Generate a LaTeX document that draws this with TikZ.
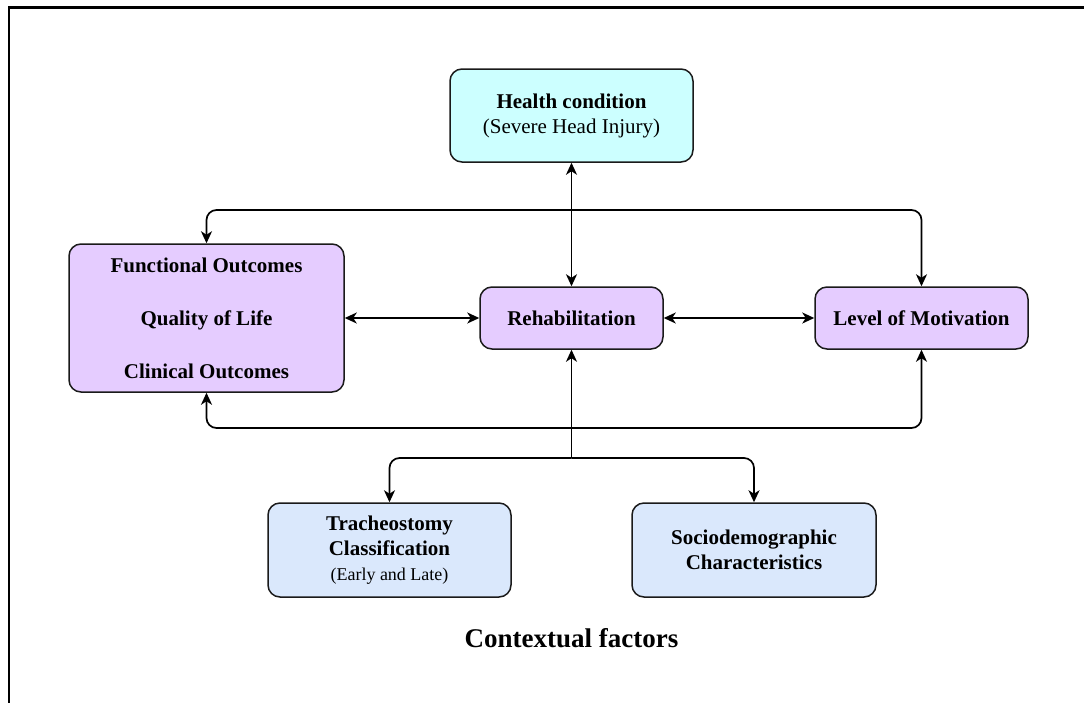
\documentclass[tikz,border=0pt]{standalone}
\usepackage{fontspec}
\setmainfont{Liberation Serif}
\usetikzlibrary{arrows.meta}
\definecolor{condfill}{HTML}{CCFFFF}
\definecolor{corefill}{HTML}{E5CCFF}
\definecolor{ctxfill}{HTML}{DAE8FC}
\definecolor{edge}{HTML}{1A1A1A}
\tikzset{
  boxstyle/.style={draw=edge, line width=1.5pt, rounded corners=12pt, align=center,
    inner sep=0pt, font=\bfseries\fontsize{21}{25}\selectfont},
  tip/.tip={Stealth[length=12pt, width=11pt, inset=3.5pt]},
  link/.style={line width=1.7pt, draw=black, rounded corners=10pt},
  both/.style={link, tip-tip},
  onearrow/.style={link, -tip},
}
\begin{document}
\begin{tikzpicture}[x=1pt, y=-1pt]
\useasboundingbox (0,0) rectangle (1084,702);
% page frame
\draw[line width=2.2pt, line cap=rect] (9,702) -- (9,7.5) -- (1084,7.5);

% health condition
\node[boxstyle, fill=condfill, minimum width=243, minimum height=93] (hc) at (571.5,115.5)
  {Health condition\\{\mdseries (Severe Head Injury)}};

% central row
\node[boxstyle, fill=corefill, minimum width=275, minimum height=148,
  font=\bfseries\fontsize{21}{53}\selectfont] (fo) at (206.5,318)
  {Functional Outcomes\\Quality of Life\\Clinical Outcomes};
\node[boxstyle, fill=corefill, minimum width=183, minimum height=62] (rehab) at (571.5,318)
  {Rehabilitation};
\node[boxstyle, fill=corefill, minimum width=213, minimum height=62] (lom) at (921.5,318)
  {Level of Motivation};

% contextual factors
\node[boxstyle, fill=ctxfill, minimum width=243, minimum height=94] (tc) at (389.5,550)
  {Tracheostomy\\Classification\\{\mdseries\fontsize{18}{23}\selectfont (Early and Late)}};
\node[boxstyle, fill=ctxfill, minimum width=244, minimum height=94] (sd) at (754,550)
  {Sociodemographic\\Characteristics};
\node[font=\bfseries\fontsize{27}{30}\selectfont] (ctx) at (571.5,638) {Contextual factors};

% connectors
\draw[both] (hc.south) -- (rehab.north);
\draw[both] (fo.north) -- (fo.north |- 0,210) -| (lom.north);
\draw[both] (fo.south) -- (fo.south |- 0,428) -| (lom.south);
\draw[both] (fo.east |- rehab.west) -- (rehab.west);
\draw[both] (rehab.east) -- (lom.west);
\coordinate (split) at (571.5,458);
\draw[onearrow] (split) -- (rehab.south);
\draw[onearrow] (split) -| (tc.north);
\draw[onearrow] (split) -| (sd.north);
\end{tikzpicture}
\end{document}
